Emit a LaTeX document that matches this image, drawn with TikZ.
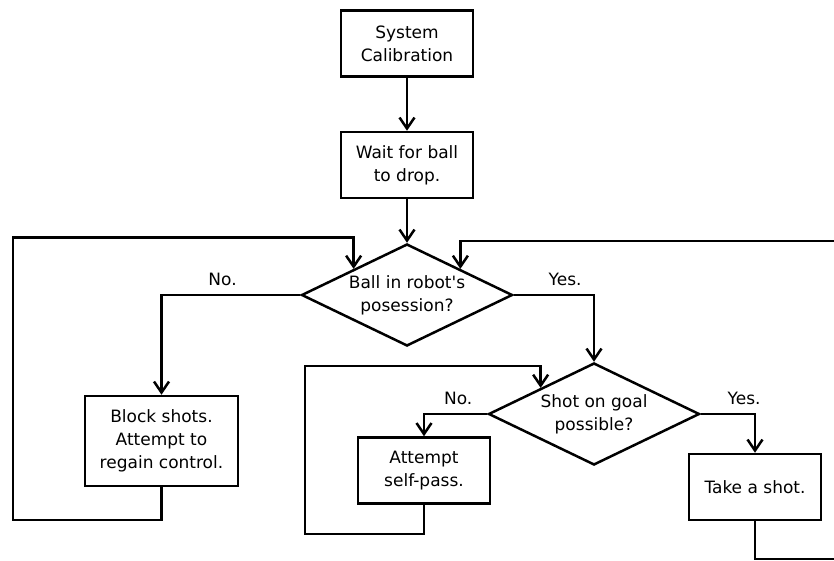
\documentclass[tikz,border=0pt]{standalone}
\usepackage{fontspec}
\setmainfont{DejaVu Sans}
\usetikzlibrary{shapes.geometric,arrows.meta}
\tikzstyle{box} = [rectangle, draw, line width=2.5pt, align=center,
    minimum width=132pt, minimum height=66pt, inner sep=2pt]
\tikzstyle{decision} = [diamond, draw, line width=2.5pt, align=center, aspect=2,
    minimum width=211pt, minimum height=102pt, inner sep=0pt]
\tikzstyle{arrow} = [draw, line width=2.5pt, -{Straight Barb[length=11pt,width=15pt]}]
\tikzstyle{answer} = [above=5pt]

\begin{document}
\begin{tikzpicture}[x=1pt, y=-1pt, font=\fontsize{17}{23}\selectfont]

    \clip (0,0) rectangle (834,561);

    % Place nodes
    \node [box] (cal) at (407,43.5) {System\\Calibration};
    \node [box, below of=cal, node distance=121.5pt] (wait) {Wait for ball\\to drop.};
    \node [decision, below of=wait, node distance=130pt] (ball)
        {Ball in robot\textquotesingle s\\posession?};
    \node [box, minimum width=153pt, minimum height=90pt] (blockshots) at (161.5,441)
        {Block shots.\\Attempt to\\regain control.};
    \node [decision] (goal) at (594,414) {Shot on goal\\possible?};
    \node [box] (selfpass) at (424,470.5) {Attempt\\self-pass.};
    \node [box] (shot) at (755,487) {Take a shot.};

    % Loop corners
    \coordinate (leftlow) at (13,520);
    \coordinate (lefthigh) at (13,237.5);
    \coordinate (selflow) at (305,534);
    \coordinate (selfhigh) at (305,366);
    \coordinate (rightlow) at (850,559);
    \coordinate (righthigh) at (850,241);

    % Draw edges
    \path [arrow] (cal.south) -- (wait.north);
    \path [arrow] (wait.south) -- (ball.north);

    \path [arrow] (ball.west) -| node [answer, pos=0.28] {No.} (blockshots.north);
    \path [arrow] (ball.east) -| node [answer, pos=0.32] {Yes.} (goal.north);

    \path [arrow] (goal.west) -| node [answer, pos=0.23] {No.} (selfpass.north);
    \path [arrow] (goal.east) -| node [answer, pos=0.4] {Yes.} (shot.north);

    \path [arrow] (blockshots.south) |- (leftlow) -- (lefthigh) -| (ball.north west);
    \path [arrow] (selfpass.south) |- (selflow) -- (selfhigh) -| (goal.north west);
    \path [arrow] (shot.south) |- (rightlow) -- (righthigh) -| (ball.north east);

\end{tikzpicture}
\end{document}
